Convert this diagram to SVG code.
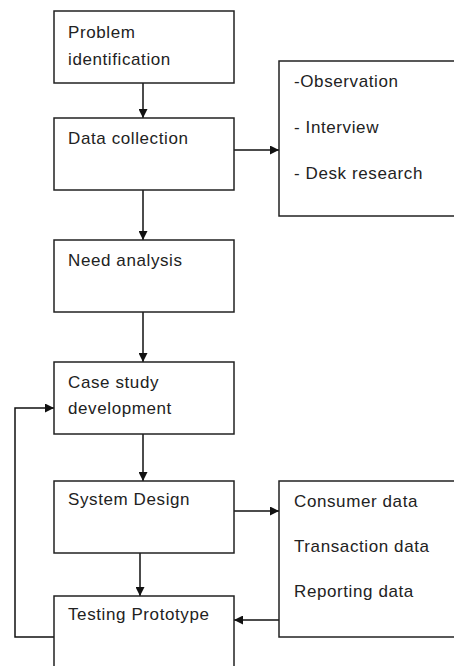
<svg xmlns="http://www.w3.org/2000/svg" width="454" height="666" viewBox="0 0 454 666">
  <style>
    .box { fill: #fff; stroke: #222; stroke-width: 1.5; }
    .lbl { font-family: "Liberation Sans", Arial, sans-serif; font-size: 17px; fill: #222; letter-spacing: 0.6px; }
    .wire { fill: none; stroke: #111; stroke-width: 1.5; }
  </style>
  <defs>
    <marker id="arrow" viewBox="0 0 10 10" refX="10" refY="5" markerWidth="9" markerHeight="9" markerUnits="userSpaceOnUse" orient="auto">
      <path d="M0,0 L10,5 L0,10 Z" fill="#111"/>
    </marker>
  </defs>
  <rect width="454" height="666" fill="#fff"/>

  <g id="connectors">
    <line class="wire" x1="143" y1="83" x2="143" y2="118" marker-end="url(#arrow)"/>
    <line class="wire" x1="234" y1="150" x2="279" y2="150" marker-end="url(#arrow)"/>
    <line class="wire" x1="143" y1="190" x2="143" y2="240" marker-end="url(#arrow)"/>
    <line class="wire" x1="143" y1="312" x2="143" y2="362" marker-end="url(#arrow)"/>
    <line class="wire" x1="143" y1="434" x2="143" y2="481" marker-end="url(#arrow)"/>
    <line class="wire" x1="234" y1="511" x2="279" y2="511" marker-end="url(#arrow)"/>
    <line class="wire" x1="140" y1="553" x2="140" y2="596" marker-end="url(#arrow)"/>
    <line class="wire" x1="279" y1="620" x2="234" y2="620" marker-end="url(#arrow)"/>
    <polyline class="wire" points="54,637 15,637 15,408 54,408" marker-end="url(#arrow)"/>
  </g>

  <g id="problem-identification">
    <rect class="box" x="54" y="11" width="180" height="72"/>
    <text class="lbl" x="68" y="38">Problem</text>
    <text class="lbl" x="68" y="65">identification</text>
  </g>

  <g id="data-collection">
    <rect class="box" x="54" y="118" width="180" height="72"/>
    <text class="lbl" x="68" y="144">Data collection</text>
  </g>

  <g id="collection-methods">
    <rect class="box" x="279" y="61" width="190" height="155"/>
    <text class="lbl" x="294" y="87">-Observation</text>
    <text class="lbl" x="294" y="133">- Interview</text>
    <text class="lbl" x="294" y="179">- Desk research</text>
  </g>

  <g id="need-analysis">
    <rect class="box" x="54" y="240" width="180" height="72"/>
    <text class="lbl" x="68" y="266">Need analysis</text>
  </g>

  <g id="case-study-development">
    <rect class="box" x="54" y="362" width="180" height="72"/>
    <text class="lbl" x="68" y="388">Case study</text>
    <text class="lbl" x="68" y="414">development</text>
  </g>

  <g id="system-design">
    <rect class="box" x="54" y="481" width="180" height="72"/>
    <text class="lbl" x="68" y="505">System Design</text>
  </g>

  <g id="data-sets">
    <rect class="box" x="279" y="481" width="190" height="156"/>
    <text class="lbl" x="294" y="507">Consumer data</text>
    <text class="lbl" x="294" y="552">Transaction data</text>
    <text class="lbl" x="294" y="597">Reporting data</text>
  </g>

  <g id="testing-prototype">
    <rect class="box" x="54" y="596" width="180" height="90"/>
    <text class="lbl" x="68" y="620">Testing Prototype</text>
  </g>
</svg>
